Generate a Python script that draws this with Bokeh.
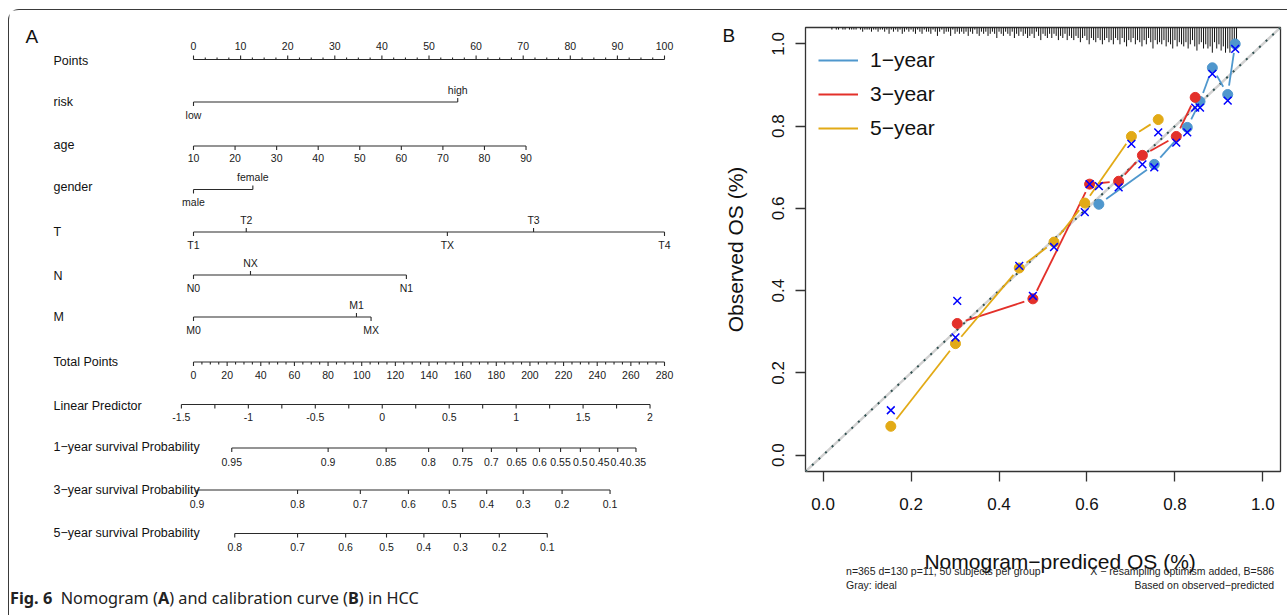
import math
from bokeh.plotting import figure
from bokeh.models import Range1d, FixedTicker, PrintfTickFormatter, Legend, LegendItem, Div
from bokeh.layouts import row, column
from bokeh.core.properties import value
from bokeh.embed import file_html
from bokeh.resources import INLINE

# ---------------- nomogram data (points scale 0-100) ----------------
points_ticks = [0, 10, 20, 30, 40, 50, 60, 70, 80, 90, 100]
risk_levels = ["low", "high"]
risk_points = [0.0, 56.1]
age_ticks = [10, 20, 30, 40, 50, 60, 70, 80, 90]
age_points_span = [0.0, 70.6]          # points for age 10 and age 90
gender_levels = ["male", "female"]
gender_points = [0.0, 12.6]
t_levels = ["T1", "T2", "TX", "T3", "T4"]
t_points = [0.0, 11.2, 53.9, 72.2, 100.0]
n_levels = ["N0", "NX", "N1"]
n_points = [0.0, 12.1, 45.2]
m_levels = ["M0", "M1", "MX"]
m_points = [0.0, 34.6, 37.7]
total_ticks = [0, 20, 40, 60, 80, 100, 120, 140, 160, 180, 200, 220, 240, 260, 280]
total_max = 280
lp_ticks = [-1.5, -1, -0.5, 0, 0.5, 1, 1.5, 2]
lp_tick_labels = ["-1.5", "-1", "-0.5", "0", "0.5", "1", "1.5", "2"]
lp_at_zero_points = -1.4096
lp_per_point = 0.035176
surv1_ticks = [0.95, 0.9, 0.85, 0.8, 0.75, 0.7, 0.65, 0.6, 0.55, 0.5, 0.45, 0.4, 0.35]
surv3_ticks = [0.9, 0.8, 0.7, 0.6, 0.5, 0.4, 0.3, 0.2, 0.1]
surv5_ticks = [0.8, 0.7, 0.6, 0.5, 0.4, 0.3, 0.2, 0.1]
base_surv = [0.854, 0.657, 0.511]      # baseline survival at LP = 0 for 1, 3, 5 years

# ---------------- calibration data ----------------
cal1_pred = [0.627, 0.753, 0.828, 0.857, 0.885, 0.920, 0.937]
cal1_obs = [0.610, 0.707, 0.797, 0.860, 0.942, 0.877, 1.000]
cal1_corr = [0.654, 0.700, 0.785, 0.845, 0.927, 0.862, 0.988]
cal3_pred = [0.305, 0.477, 0.606, 0.672, 0.726, 0.803, 0.846]
cal3_obs = [0.320, 0.380, 0.659, 0.666, 0.729, 0.775, 0.870]
cal3_corr = [0.375, 0.387, 0.659, 0.651, 0.707, 0.760, 0.845]
cal5_pred = [0.154, 0.301, 0.446, 0.525, 0.595, 0.701, 0.762]
cal5_obs = [0.070, 0.271, 0.455, 0.518, 0.613, 0.775, 0.816]
cal5_corr = [0.109, 0.286, 0.460, 0.506, 0.591, 0.757, 0.785]
series_names = ["1\u2212year", "3\u2212year", "5\u2212year"]
axis_ticks = [0.0, 0.2, 0.4, 0.6, 0.8, 1.0]

# spike histogram of predicted values (top rug), bins from 0.02 by 0.005
rug_start, rug_step = 0.02, 0.005
rug_counts = [
    1, 0, 1, 1, 0, 1, 1, 0, 1, 1,
    1, 1, 0, 1, 2, 1, 1, 1, 2, 1,
    1, 2, 1, 1, 2, 1, 3, 1, 2, 1,
    2, 1, 3, 2, 1, 2, 1, 2, 3, 1,
    2, 3, 1, 2, 2, 3, 1, 2, 4, 2,
    1, 3, 2, 2, 4, 1, 3, 2, 3, 2,
    3, 2, 4, 2, 3, 1, 3, 4, 2, 3,
    2, 4, 3, 2, 3, 5, 2, 3, 4, 2,
    3, 4, 2, 5, 3, 4, 2, 4, 3, 5,
    4, 3, 5, 2, 4, 6, 3, 4, 5, 3,
    5, 3, 4, 6, 4, 5, 3, 6, 4, 5,
    6, 4, 5, 7, 5, 4, 6, 8, 5, 6,
    7, 5, 6, 8, 6, 5, 7, 6, 8, 5,
    6, 8, 5, 7, 9, 6, 7, 5, 8, 6,
    7, 9, 6, 8, 5, 7, 10, 6, 8, 7,
    8, 6, 9, 7, 8, 10, 6, 9, 7, 8,
    9, 7, 10, 8, 6, 9, 11, 8, 7, 10,
    8, 10, 9, 12, 7, 10, 8, 11, 9, 12,
    10, 12, 9, 11, 8,
]
x_axis_title = "Nomogram\u2212prediced OS (%)"
y_axis_title = "Observed OS (%)"
footnotes_left = ["n=365 d=130 p=11, 50 subjects per group", "Gray: ideal"]
footnotes_right = ["X \u2212 resampling optimism added, B=586", "Based on observed\u2212predicted"]

# ---------------- styles ----------------
FNAME = "Liberation Sans"
FONT = value(FNAME)
INK = "#2a2a2a"
COLS = ["#4F97CD", "#E3302A", "#E2AA16"]

# page geometry: content origin at page (9, 10)
OX, OY = 9, 10
RX0 = 760                      # page x where the right panel starts
LW, LH = RX0 - OX, 579
RW = 1287 - RX0
ML, MR, MT, MB = 45, 7, 17, 59
RH = MT + 444 + MB
FH = 605 - RH

# ======================= LEFT PANEL (nomogram) =======================
PT0 = 193.0 - OX     # pixel of 0 points inside the panel
PXPT = 4.71          # pixels per point


def px2pt(page_x):
    return (page_x - OX - PT0) / PXPT


def rowy(page_y):
    return page_y - OY


left = figure(width=LW, height=LH, output_backend="svg", toolbar_location=None,
              x_range=Range1d(px2pt(OX), px2pt(OX + LW)), y_range=Range1d(LH, 0),
              min_border=0, outline_line_color=None,
              x_axis_location=None, y_axis_location=None)
left.grid.visible = False
left.background_fill_color = "white"
left.border_fill_color = "white"

sx0, sy0, sx1, sy1 = [], [], [], []
tx, ty, tt = [], [], []


def seg(x0, y0, x1, y1):
    sx0.append(x0); sy0.append(y0); sx1.append(x1); sy1.append(y1)


def axis(pos, labels, y, sides, minor=(), tick=4.0, mtick=2.5, off=12.5):
    seg(min(pos), y, max(pos), y)
    for p_, lab, sd in zip(pos, labels, sides):
        d = -1 if sd == "above" else 1
        seg(p_, y, p_, y + d * tick)
        tx.append(p_); ty.append(y + d * off); tt.append(lab)
    d = -1 if sides[0] == "above" else 1
    for m in minor:
        seg(m, y, m, y + d * mtick)


# Points
pts_minor = [v * 2.5 for v in range(41) if v % 4]
axis(points_ticks, [str(v) for v in points_ticks], rowy(59), ["above"] * len(points_ticks),
     minor=pts_minor, off=13.5, mtick=2.0)
# risk
axis(risk_points, risk_levels, rowy(101.5), ["below", "above"])
# age
age_pos = [age_points_span[0] + (a - age_ticks[0]) / (age_ticks[-1] - age_ticks[0])
           * (age_points_span[1] - age_points_span[0]) for a in age_ticks]
axis(age_pos, [str(a) for a in age_ticks], rowy(145.5), ["below"] * len(age_ticks), off=11.5)
# gender
axis(gender_points, gender_levels, rowy(189), ["below", "above"])
# T
axis(t_points, t_levels, rowy(231.5), ["below", "above", "below", "above", "below"])
# N
axis(n_points, n_levels, rowy(274.5), ["below", "above", "below"])
# M
axis(m_points, m_levels, rowy(316.5), ["below", "above", "below"])
# Total points
tp_pos = [t * 100.0 / total_max for t in total_ticks]
tp_minor = [v * 5 * 100.0 / total_max for v in range(57) if v % 4]
axis(tp_pos, [str(t) for t in total_ticks], rowy(361.5), ["below"] * len(tp_pos), minor=tp_minor)


def lp2pt(lp):
    return (lp - lp_at_zero_points) / lp_per_point


lp_pos = [lp2pt(v) for v in lp_ticks]
lp_minor = [lp2pt(lp_ticks[0] + 0.25 + 0.5 * i) for i in range(len(lp_ticks) - 1)]
axis(lp_pos, lp_tick_labels, rowy(404), ["below"] * len(lp_pos), minor=lp_minor, mtick=4.0)


def surv2pt(s, s0):
    return lp2pt(math.log(math.log(s) / math.log(s0)))


for ticks_, s0, yy in ((surv1_ticks, base_surv[0], 447.5), (surv3_ticks, base_surv[1], 489.5),
                       (surv5_ticks, base_surv[2], 533)):
    axis([surv2pt(s, s0) for s in ticks_], [f"{s:g}" for s in ticks_], rowy(yy),
         ["below"] * len(ticks_), off=13.5)

left.segment(sx0, sy0, sx1, sy1, line_color=INK, line_width=1.1)
left.text(tx, ty, text=tt, text_font=FONT, text_font_size="10.5px", text_align="center",
          text_baseline="middle", text_color="#1a1a1a")

row_names = ["Points", "risk", "age", "gender", "T", "N", "M", "Total Points", "Linear Predictor",
             "1\u2212year survival Probability", "3\u2212year survival Probability",
             "5\u2212year survival Probability"]
row_label_y = [60, 101.5, 144, 186.5, 231.5, 275, 316.5, 361.5, 405, 446.5, 489.5, 532.5]
left.text([px2pt(53)] * len(row_names), [rowy(v) for v in row_label_y], text=row_names,
          text_font=FONT, text_font_size="12.5px", text_align="left", text_baseline="middle",
          text_color="#111111")
left.text([px2pt(25), px2pt(722)], [rowy(36), rowy(35)], text=["A", "B"], text_font=FONT,
          text_font_size="19px", text_align="left", text_baseline="middle", text_color="#111111")
# y-axis title of the calibration panel (sits in the strip left of its tick labels)
left.text([px2pt(735)], [rowy(249)], text=[y_axis_title], angle=math.pi / 2, text_font=FONT,
          text_font_size="21px", text_align="center", text_baseline="middle", text_color="#111111")

caption = Div(text='<b>Fig. 6</b>&nbsp; Nomogram (<b>A</b>) and calibration curve (<b>B</b>) in HCC',
              width=LW - 10, height=20, margin=(0, 0, 0, 0),
              styles={"font-family": "Noto Sans", "font-size": "16.3px", "line-height": "18px",
                      "padding-left": "1px", "color": "#222", "white-space": "nowrap"})

# ======================= RIGHT PANEL (calibration) =======================
right = figure(width=RW, height=RH, output_backend="svg", toolbar_location=None,
               x_range=Range1d(-0.04, 1.04), y_range=Range1d(-0.04, 1.04),
               min_border_left=ML, min_border_right=MR, min_border_top=MT, min_border_bottom=MB)
right.grid.visible = False
right.outline_line_color = "#333333"
right.outline_line_width = 1.3
right.background_fill_color = "white"
right.border_fill_color = "white"
KX = (RW - ML - MR) / 1.08
KY = (RH - MT - MB) / 1.08

for ax in (right.xaxis[0], right.yaxis[0]):
    ax.ticker = FixedTicker(ticks=axis_ticks)
    ax.formatter = PrintfTickFormatter(format="%.1f")
    ax.axis_line_color = None
    ax.major_tick_out = 10
    ax.major_tick_in = 0
    ax.minor_tick_out = 0
    ax.minor_tick_in = 0
    ax.major_tick_line_color = "#333333"
    ax.major_tick_line_width = 1.3
    ax.major_label_text_font = FNAME
    ax.major_label_text_font_size = "17px"
    ax.major_label_text_color = "#111111"
right.xaxis.major_label_standoff = 16
right.yaxis.major_label_standoff = 11
right.yaxis.major_label_orientation = "vertical"

# ideal line
right.line([-0.04, 1.04], [-0.04, 1.04], line_color="#d2d2d2", line_width=2.5)
right.line([-0.04, 1.04], [-0.04, 1.04], line_color="#2f4f4f", line_width=2.0, line_dash="2 7")

# spike histogram at top
rx = [rug_start + i * rug_step for i in range(len(rug_counts))]
rlen = [c * 2.1 / KY for c in rug_counts]
right.segment(rx, [1.04] * len(rx), rx, [1.04 - h for h in rlen], line_color="#111111",
              line_width=1.0)


def gapped(xs, ys, gap=9.0):
    a0, b0, a1, b1 = [], [], [], []
    for i in range(len(xs) - 1):
        dx = (xs[i + 1] - xs[i]) * KX
        dy = (ys[i + 1] - ys[i]) * KY
        d = math.hypot(dx, dy)
        if d <= 2 * gap:
            continue
        ux, uy = dx / d, dy / d
        a0.append(xs[i] + ux * gap / KX); b0.append(ys[i] + uy * gap / KY)
        a1.append(xs[i + 1] - ux * gap / KX); b1.append(ys[i + 1] - uy * gap / KY)
    return a0, b0, a1, b1


preds = [cal1_pred, cal3_pred, cal5_pred]
obs = [cal1_obs, cal3_obs, cal5_obs]
corr = [cal1_corr, cal3_corr, cal5_corr]
legend_items = []
for k in range(3):
    a0, b0, a1, b1 = gapped(preds[k], obs[k])
    r = right.segment(a0, b0, a1, b1, line_color=COLS[k], line_width=1.8)
    legend_items.append(LegendItem(label=series_names[k], renderers=[r]))
for k in range(3):
    right.scatter(preds[k], obs[k], marker="circle", size=10, fill_color=COLS[k],
                  line_color=COLS[k])
for k in range(3):
    right.scatter(preds[k], corr[k], marker="x", size=11, line_color="#0000ff", line_width=1.5)

LEG_ROW = 34
legend = Legend(items=legend_items, location=(13, 444 - 16 - 3 * LEG_ROW),
                label_text_font=FNAME,
                label_text_font_size="21px", label_text_color="#111111", glyph_width=40,
                glyph_height=LEG_ROW, label_height=LEG_ROW, label_standoff=12, spacing=0,
                padding=0, margin=0, border_line_color=None, background_fill_alpha=0)
right.add_layout(legend)

# footer strip: x-axis title and the calibrate() footnotes
footer = figure(width=RW, height=FH, output_backend="svg", toolbar_location=None,
                x_range=Range1d(0, RW), y_range=Range1d(FH, 0), min_border=0,
                outline_line_color=None, x_axis_location=None, y_axis_location=None)
footer.grid.visible = False
footer.background_fill_color = "white"
footer.border_fill_color = "white"
fy0 = OY + RH                  # page y of the footer top
frame_l, frame_r = RX0 + ML, RX0 + RW - MR
footer.text([(frame_l + frame_r) / 2 - RX0], [561 - fy0], text=[x_axis_title], text_font=FONT,
            text_font_size="21px", text_align="center", text_baseline="middle",
            text_color="#111111")
footer.text([frame_l - RX0] * 2, [570 - fy0, 584 - fy0], text=footnotes_left, text_font=FONT,
            text_font_size="10.5px", text_align="left", text_baseline="middle",
            text_color="#222222")
footer.text([frame_r - RX0] * 2, [570 - fy0, 584 - fy0], text=footnotes_right, text_font=FONT,
            text_font_size="10.5px", text_align="right", text_baseline="middle",
            text_color="#222222")

layout = row(column(left, caption), column(right, footer),
             styles={"border-top": "1px solid #3a3a3a", "border-left": "1px solid #3a3a3a",
                     "border-top-left-radius": "11px", "margin-left": "8px",
                     "margin-top": "9px"})

open("out.html", "w").write(file_html(layout, INLINE))
